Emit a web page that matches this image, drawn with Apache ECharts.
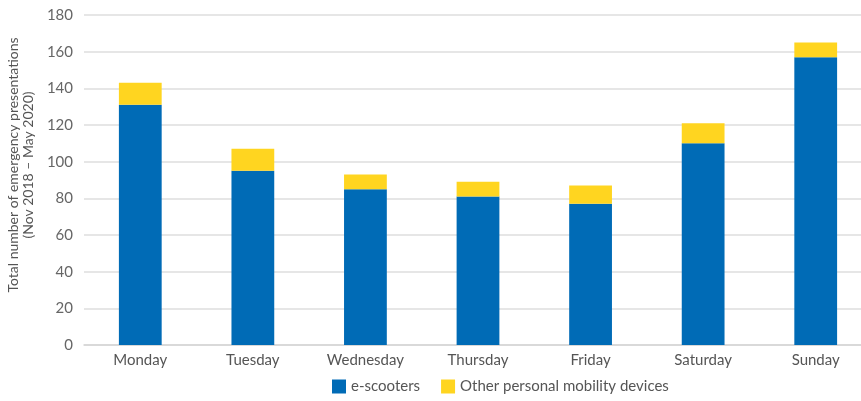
<!DOCTYPE html>
<html>
<head>
<meta charset="utf-8">
<script src="https://cdn.jsdelivr.net/npm/echarts@6/dist/echarts.min.js"></script>
<style>
  html, body { margin: 0; padding: 0; background: #fff; }
  #chart { width: 861px; height: 401px; }
</style>
</head>
<body>
<div id="chart"></div>
<script>
// Emergency presentations by day of week, Nov 2018 – May 2020
const days = ['Monday', 'Tuesday', 'Wednesday', 'Thursday', 'Friday', 'Saturday', 'Sunday'];
const eScooters = [131, 95, 85, 81, 77, 110, 157];
const otherDevices = [12, 12, 8, 8, 10, 11, 8];
const yTicks = { min: 0, max: 180, interval: 20 };

const FONT = 'Lato, "Open Sans", sans-serif';
const chart = echarts.init(document.getElementById('chart'), null, { renderer: 'canvas' });

chart.setOption({
  animation: false,
  textStyle: { fontFamily: FONT },
  grid: { left: 84, top: 15, right: -11, height: 330, containLabel: false, outerBoundsMode: 'none' },
  legend: {
    bottom: 2,
    left: 327,
    itemWidth: 14,
    itemHeight: 14,
    itemGap: 21,
    icon: 'rect',
    textStyle: { color: '#555', fontSize: 15, fontFamily: FONT },
    data: ['e-scooters', 'Other personal mobility devices']
  },
  xAxis: {
    type: 'category',
    data: days,
    axisTick: { show: false },
    axisLine: { lineStyle: { color: '#d5d5d5', width: 1.5 } },
    axisLabel: { color: '#555', fontSize: 15, margin: 8 }
  },
  yAxis: {
    type: 'value',
    min: yTicks.min,
    max: yTicks.max,
    interval: yTicks.interval,
    name: 'Total number of emergency presentations\n(Nov 2018 – May 2020)',
    nameLocation: 'middle',
    nameGap: 45,
    nameTextStyle: { color: '#555', fontSize: 14, lineHeight: 15, padding: [0, 0, 0, 30] },
    axisLine: { show: false },
    axisTick: { show: false },
    axisLabel: { color: '#666', fontSize: 15, margin: 11 },
    splitLine: { lineStyle: { color: '#dedede', width: 1.5 } }
  },
  series: [
    {
      name: 'e-scooters',
      type: 'bar',
      stack: 'total',
      barWidth: '38%',
      itemStyle: { color: '#006BB6' },
      data: eScooters
    },
    {
      name: 'Other personal mobility devices',
      type: 'bar',
      stack: 'total',
      barWidth: '38%',
      itemStyle: { color: '#FFD520' },
      data: otherDevices
    }
  ]
});
</script>
</body>
</html>
